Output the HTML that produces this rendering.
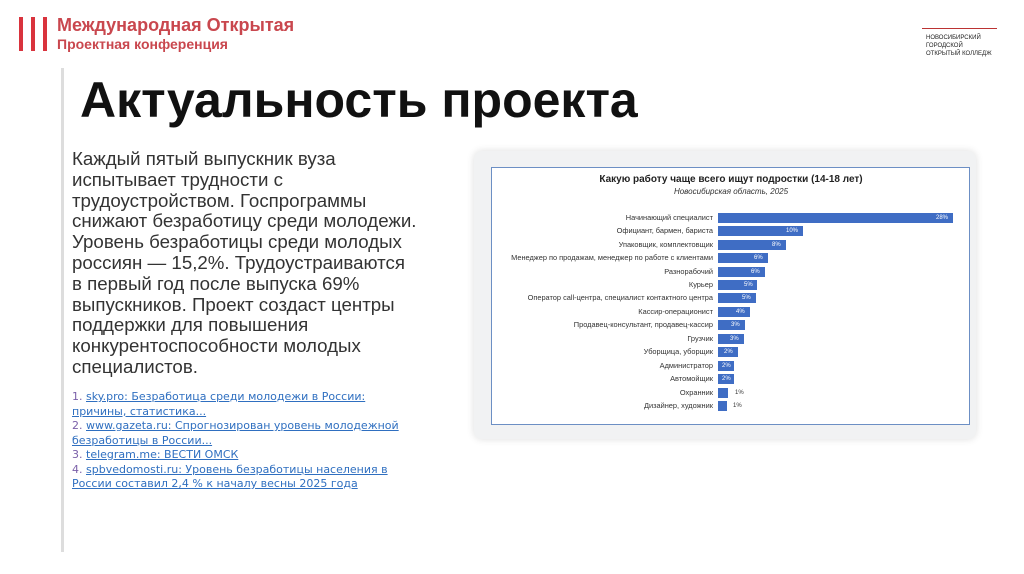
<!DOCTYPE html>
<html><head><meta charset="utf-8"><style>
body{margin:0;width:1024px;height:574px;background:#fff;position:relative;overflow:hidden;font-family:"Liberation Sans","Noto Sans CJK SC",sans-serif}
.abs{position:absolute}
.bar{position:absolute;left:718px;height:10px;background:#3f6dc4}
.lbl{position:absolute;right:311px;font-size:7.4px;color:#333;white-space:nowrap;line-height:10px}
.val{position:absolute;font-size:6px;color:#fff;line-height:10px}
a{color:#2f6fc0;text-decoration:underline}
</style></head><body>
<div class="abs" style="left:19px;top:17px;width:4px;height:34px;background:#d9333d"></div>
<div class="abs" style="left:31px;top:17px;width:4px;height:34px;background:#d9333d"></div>
<div class="abs" style="left:43px;top:17px;width:4px;height:34px;background:#d9333d"></div>
<div class="abs" style="left:57px;top:15px;font-size:18px;font-weight:bold;color:#c9474e;white-space:nowrap">Международная Открытая</div>
<div class="abs" style="left:57px;top:36px;font-size:14px;font-weight:bold;color:#c9474e;white-space:nowrap">Проектная конференция</div>
<div class="abs" style="left:922px;top:14px;width:75px;height:14px;border-bottom:1px solid #b33;"></div>
<div class="abs" style="left:926px;top:34px;font-size:6px;color:#222;line-height:8px;width:80px">НОВОСИБИРСКИЙ ГОРОДСКОЙ<br>ОТКРЫТЫЙ КОЛЛЕДЖ</div>
<div class="abs" style="left:61px;top:68px;width:3px;height:484px;background:#ddd"></div>
<div class="abs" style="left:80px;top:71px;font-size:50px;font-weight:bold;color:#111;white-space:nowrap">Актуальность проекта</div>
<div class="abs" style="left:72px;top:149px;white-space:nowrap;font-size:18.7px;line-height:20.8px;color:#333">Каждый пятый выпускник вуза<br>испытывает трудности с<br>трудоустройством. Госпрограммы<br>снижают безработицу среди молодежи.<br>Уровень безработицы среди молодых<br>россиян — 15,2%. Трудоустраиваются<br>в первый год после выпуска 69%<br>выпускников. Проект создаст центры<br>поддержки для повышения<br>конкурентоспособности молодых<br>специалистов.</div>
<div class="abs" style="left:72px;top:390px;width:340px;font-family:'DejaVu Sans',sans-serif;font-size:11px;line-height:14.5px;color:#7a5fa8">1. <a>sky.pro: Безработица среди молодежи в России: причины, статистика...</a><br>2. <a>www.gazeta.ru: Спрогнозирован уровень молодежной безработицы в России...</a><br>3. <a>telegram.me: ВЕСТИ ОМСК</a><br>4. <a>spbvedomosti.ru: Уровень безработицы населения в России составил 2,4 % к началу весны 2025 года</a></div>
<div class="abs" style="left:474px;top:151px;width:502px;height:288px;background:#f1f2f3;border-radius:8px;box-shadow:0 0 8px #ddd"></div>
<div class="abs" style="left:491px;top:167px;width:477px;height:256px;background:#fff;border:1.5px solid #6c8fc4"></div>
<div class="abs" style="left:491px;top:174px;width:480px;text-align:center;font-size:10px;font-weight:bold;color:#222">Какую работу чаще всего ищут подростки (14-18 лет)</div>
<div class="abs" style="left:491px;top:187px;width:480px;text-align:center;font-size:8px;font-style:italic;color:#333">Новосибирская область, 2025</div>
<div class="bar" style="top:213px;width:235px"></div><div class="lbl" style="top:213px">Начинающий специалист</div><div class="val" style="top:213px;left:936px">28%</div>
<div class="bar" style="top:226px;width:85px"></div><div class="lbl" style="top:226px">Официант, бармен, бариста</div><div class="val" style="top:226px;left:786px">10%</div>
<div class="bar" style="top:240px;width:68px"></div><div class="lbl" style="top:240px">Упаковщик, комплектовщик</div><div class="val" style="top:240px;left:772px">8%</div>
<div class="bar" style="top:253px;width:50px"></div><div class="lbl" style="top:253px">Менеджер по продажам, менеджер по работе с клиентами</div><div class="val" style="top:253px;left:754px">6%</div>
<div class="bar" style="top:267px;width:47px"></div><div class="lbl" style="top:267px">Разнорабочий</div><div class="val" style="top:267px;left:751px">6%</div>
<div class="bar" style="top:280px;width:39px"></div><div class="lbl" style="top:280px">Курьер</div><div class="val" style="top:280px;left:744px">5%</div>
<div class="bar" style="top:293px;width:38px"></div><div class="lbl" style="top:293px">Оператор call-центра, специалист контактного центра</div><div class="val" style="top:293px;left:742px">5%</div>
<div class="bar" style="top:307px;width:32px"></div><div class="lbl" style="top:307px">Кассир-операционист</div><div class="val" style="top:307px;left:736px">4%</div>
<div class="bar" style="top:320px;width:27px"></div><div class="lbl" style="top:320px">Продавец-консультант, продавец-кассир</div><div class="val" style="top:320px;left:731px">3%</div>
<div class="bar" style="top:334px;width:26px"></div><div class="lbl" style="top:334px">Грузчик</div><div class="val" style="top:334px;left:730px">3%</div>
<div class="bar" style="top:347px;width:20px"></div><div class="lbl" style="top:347px">Уборщица, уборщик</div><div class="val" style="top:347px;left:724px">2%</div>
<div class="bar" style="top:361px;width:16px"></div><div class="lbl" style="top:361px">Администратор</div><div class="val" style="top:361px;left:722px">2%</div>
<div class="bar" style="top:374px;width:16px"></div><div class="lbl" style="top:374px">Автомойщик</div><div class="val" style="top:374px;left:722px">2%</div>
<div class="bar" style="top:388px;width:10px"></div><div class="lbl" style="top:388px">Охранник</div><div class="val" style="top:388px;left:735px;color:#333">1%</div>
<div class="bar" style="top:401px;width:9px"></div><div class="lbl" style="top:401px">Дизайнер, художник</div><div class="val" style="top:401px;left:733px;color:#333">1%</div>
</body></html>
